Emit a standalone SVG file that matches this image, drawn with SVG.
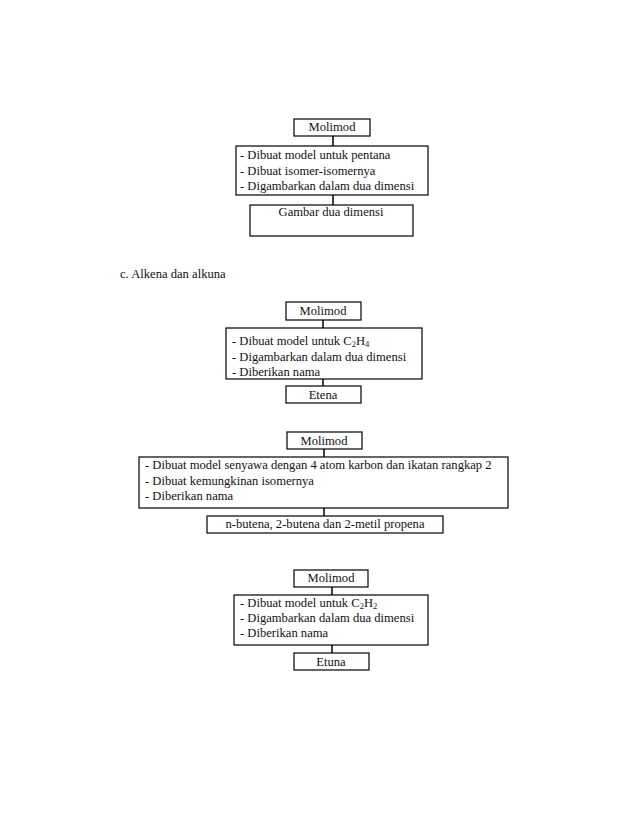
<svg xmlns="http://www.w3.org/2000/svg" width="638" height="826" viewBox="0 0 638 826">
<style>
rect.b{fill:#fff;stroke:#000;stroke-width:1.2}
text{font-family:"Liberation Serif","Times New Roman",serif;font-size:12.6px;fill:#111}
.c{text-anchor:middle}
.s{font-size:8.5px}
#connectors line{stroke:#000;stroke-width:1.5}
</style>
<rect width="638" height="826" fill="#fff"/>
<g id="connectors">
<line x1="333" y1="136" x2="333" y2="146"/>
<line x1="333" y1="195" x2="333" y2="205"/>
<line x1="323" y1="320" x2="323" y2="328"/>
<line x1="323" y1="379" x2="323" y2="386"/>
<line x1="324" y1="449" x2="324" y2="457"/>
<line x1="324" y1="508" x2="324" y2="516"/>
<line x1="332" y1="587" x2="332" y2="595"/>
<line x1="332" y1="645" x2="332" y2="653"/>
</g>
<g id="d1-molimod"><rect class="b" x="294" y="119" width="76" height="17"/><text class="c" x="332" y="131">Molimod</text></g>
<g id="d1-steps"><rect class="b" x="236" y="146" width="192" height="49"/>
<text x="240" y="159">- Dibuat model untuk pentana</text>
<text x="240" y="175">- Dibuat isomer-isomernya</text>
<text x="240" y="190">- Digambarkan dalam dua dimensi</text></g>
<g id="d1-result"><rect class="b" x="250" y="205" width="163" height="31"/><text class="c" x="331" y="216">Gambar dua dimensi</text></g>
<text x="120" y="278">c. Alkena dan alkuna</text>
<g id="d2-molimod"><rect class="b" x="286" y="302" width="75" height="18"/><text class="c" x="323" y="315">Molimod</text></g>
<g id="d2-steps"><rect class="b" x="226" y="328" width="196" height="51"/>
<text x="232" y="345">- Dibuat model untuk C<tspan class="s" dy="2">2</tspan><tspan dy="-2">H</tspan><tspan class="s" dy="2">4</tspan></text>
<text x="232" y="361">- Digambarkan dalam dua dimensi</text>
<text x="232" y="376">- Diberikan nama</text></g>
<g id="d2-result"><rect class="b" x="286" y="386" width="75" height="17"/><text class="c" x="323" y="399">Etena</text></g>
<g id="d3-molimod"><rect class="b" x="287" y="432" width="75" height="17"/><text class="c" x="324" y="445">Molimod</text></g>
<g id="d3-steps"><rect class="b" x="139" y="457" width="369" height="51"/>
<text x="145" y="469">- Dibuat model senyawa dengan 4 atom karbon dan ikatan rangkap 2</text>
<text x="145" y="485">- Dibuat kemungkinan isomernya</text>
<text x="145" y="500">- Diberikan nama</text></g>
<g id="d3-result"><rect class="b" x="207" y="516" width="236" height="17"/><text class="c" x="325" y="528">n-butena, 2-butena dan 2-metil propena</text></g>
<g id="d4-molimod"><rect class="b" x="294" y="570" width="74" height="17"/><text class="c" x="331" y="582">Molimod</text></g>
<g id="d4-steps"><rect class="b" x="234" y="595" width="194" height="50"/>
<text x="240" y="607">- Dibuat model untuk C<tspan class="s" dy="2">2</tspan><tspan dy="-2">H</tspan><tspan class="s" dy="2">2</tspan></text>
<text x="240" y="622">- Digambarkan dalam dua dimensi</text>
<text x="240" y="637">- Diberikan nama</text></g>
<g id="d4-result"><rect class="b" x="294" y="653" width="75" height="17"/><text class="c" x="331" y="666">Etuna</text></g>
</svg>
